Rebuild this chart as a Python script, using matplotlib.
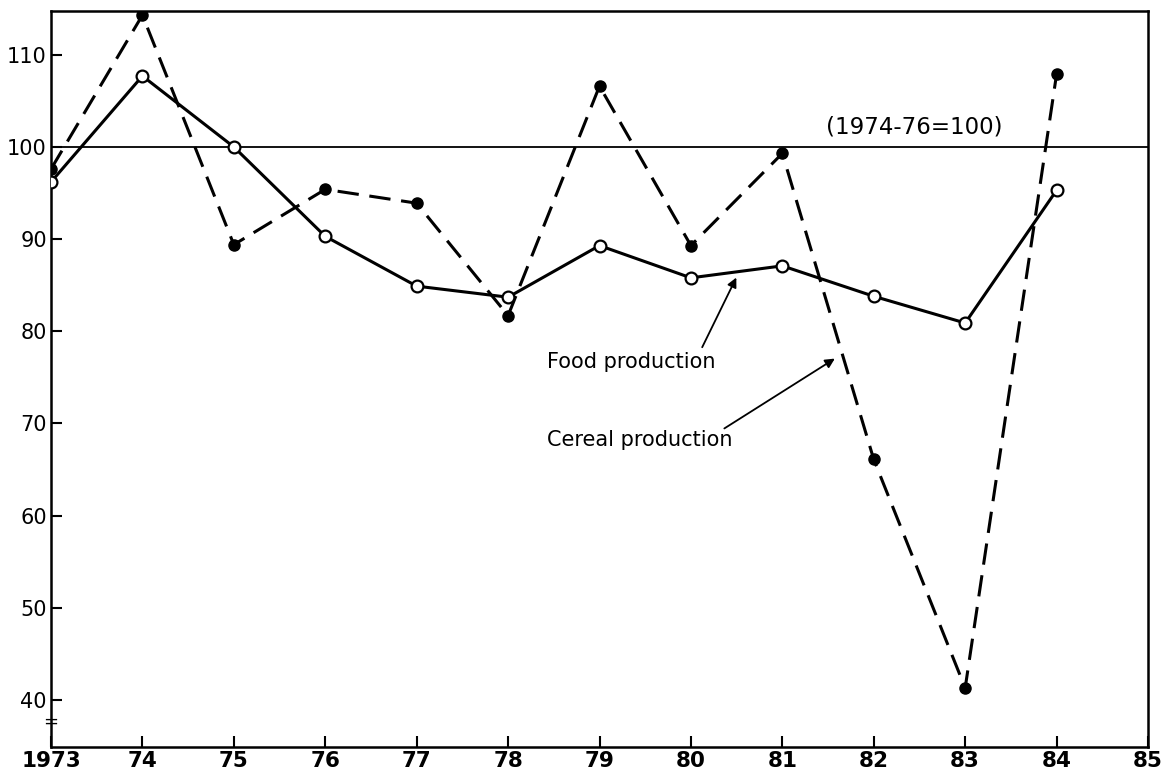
import matplotlib
matplotlib.use("Agg")
import matplotlib.pyplot as plt

years = [1973, 1974, 1975, 1976, 1977, 1978, 1979, 1980, 1981, 1982, 1983, 1984]
food = [96.2, 107.7, 100.0, 90.3, 84.9, 83.7, 89.3, 85.8, 87.1, 83.8, 80.9, 95.3]
cereal = [97.6, 114.3, 89.4, 95.4, 93.9, 81.7, 106.6, 89.3, 99.3, 66.1, 41.3, 107.9]
xticks = list(range(1973, 1986))
xticklabels = ["1973", "74", "75", "76", "77", "78", "79", "80", "81", "82", "83", "84", "85"]
yticks = [40, 50, 60, 70, 80, 90, 100, 110]

plt.rcParams['font.family'] = ['DejaVu Sans']
fig = plt.figure(figsize=(11.67, 7.75), dpi=100)
ax = fig.add_axes([51/1167, 1 - 747/775, (1148-51)/1167, (747-11)/775])

ax.axhline(100, color='black', lw=1.3, zorder=1)
ax.plot(years, cereal, color='black', lw=2.2, ls=(0, (7, 3.5)), marker='o', ms=8,
        mfc='black', mec='black', zorder=3)
ax.plot(years, food, color='black', lw=2.2, ls='-', marker='o', ms=8.5,
        mfc='white', mec='black', mew=1.6, zorder=4)

ax.set_xlim(1973, 1985)
ax.set_ylim(34.9, 114.75)
ax.set_xticks(xticks)
ax.set_xticklabels(xticklabels, fontweight='bold')
ax.set_yticks(yticks)
ax.tick_params(direction='in', length=8, width=1.5, pad=3)
ax.tick_params(axis='x', labelsize=15.5)
ax.tick_params(axis='y', labelsize=15)
for s in ax.spines.values():
    s.set_linewidth(1.8)

ax.text(1982.44, 100.9, "(1974-76=100)", fontsize=16.5, ha='center', va='bottom')
ax.text(1978.43, 76.7, "Food production", fontsize=15, ha='left', va='center')
ax.text(1978.43, 68.2, "Cereal production", fontsize=15, ha='left', va='center')
ax.annotate("", xy=(1980.51, 86.1), xytext=(1980.11, 78.0),
            arrowprops=dict(arrowstyle='-|>', color='black', lw=1.3, mutation_scale=14))
ax.annotate("", xy=(1981.60, 77.2), xytext=(1980.34, 69.3),
            arrowprops=dict(arrowstyle='-|>', color='black', lw=1.3, mutation_scale=14))

# axis break mark
ax.text(1973, 37.6, "=", fontsize=13, ha='center', va='center', rotation=0)

fig.savefig("out.png", dpi=100)
